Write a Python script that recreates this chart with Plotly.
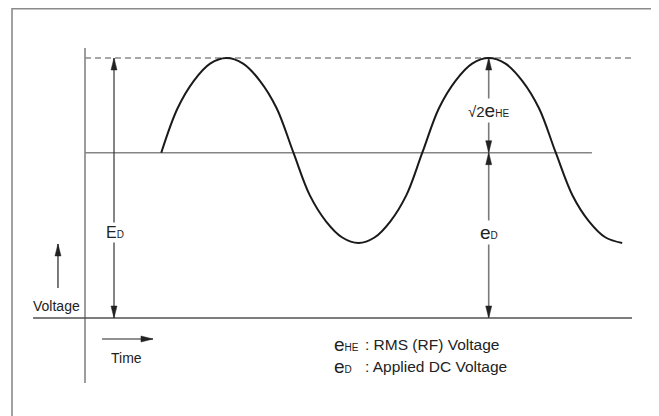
import plotly.graph_objects as go

# ---------------- data (time units, voltage units) ----------------
wave_t = [1.160, 1.408, 1.655, 1.903, 2.150,
          2.405, 2.660, 2.915, 3.170,
          3.418, 3.665, 3.913, 4.160,
          4.403, 4.645, 4.888, 5.130,
          5.383, 5.635, 5.888, 6.140,
          6.395, 6.650, 6.905, 7.160,
          7.413, 7.665, 7.918, 8.170]
wave_v = [1.000, 1.269, 1.435, 1.539, 1.573,
          1.539, 1.435, 1.269, 1.000,
          0.743, 0.585, 0.487, 0.454,
          0.487, 0.585, 0.743, 1.000,
          1.269, 1.435, 1.539, 1.573,
          1.539, 1.435, 1.269, 1.000,
          0.743, 0.585, 0.487, 0.454]

DC_LEVEL = 1.0      # e_D
PEAK_LEVEL = 1.573  # E_D
ED_ARROW_T = 0.441  # position of E_D arrow
PEAK_T = 6.14       # position of right-hand arrows (second peak)

AXIS_V = [-0.393, 1.633]        # vertical axis extent
BASE_T = [-0.79, 8.32]          # baseline extent
MID_T = [0.0, 7.71]             # DC line extent
DASH_T = [0.0, 8.32]            # peak dashed line extent

TIME_ARROW_T = [0.259, 1.034]
TIME_ARROW_V = -0.127
VOLT_ARROW_T = -0.411
VOLT_ARROW_V = [0.181, 0.448]

LEGEND_SYMBOLS = ["HE", "D"]
LEGEND_TEXTS = [": RMS (RF) Voltage", ": Applied DC Voltage"]
LEGEND_V = [-0.163, -0.296]

# ---------------- axes geometry ----------------
W, H = 651, 408   # page body has an 8px margin
X_RANGE = [-1.1711, 8.7300]
Y_RANGE = [-0.5929, 1.8754]
SX = W / (X_RANGE[1] - X_RANGE[0])   # px per time unit
SY = H / (Y_RANGE[1] - Y_RANGE[0])   # px per voltage unit

FONT = "Liberation Sans, Arial, Helvetica, sans-serif"

fig = go.Figure()

def seg(x0, y0, x1, y1, color, width, dash="solid"):
    fig.add_shape(type="line", xref="x", yref="y", x0=x0, y0=y0, x1=x1, y1=y1,
                  line=dict(color=color, width=width, dash=dash), layer="below")

def head(t, v, direction, color, length=12, half=3):
    L, w = length, half
    if direction == "up":
        p = [(t, v), (t - w / SX, v - L / SY), (t + w / SX, v - L / SY)]
    elif direction == "down":
        p = [(t, v), (t - w / SX, v + L / SY), (t + w / SX, v + L / SY)]
    else:  # right
        p = [(t, v), (t - L / SX, v + w / SY), (t - L / SX, v - w / SY)]
    path = "M{},{} L{},{} L{},{} Z".format(p[0][0], p[0][1], p[1][0], p[1][1], p[2][0], p[2][1])
    fig.add_shape(type="path", xref="x", yref="y", path=path,
                  fillcolor=color, line=dict(color=color, width=0.5))

# outer frame (open at bottom edge of view)
fig.add_shape(type="rect", xref="paper", yref="paper", x0=4 / W, x1=645 / W,
              y0=-0.1, y1=1 - 0.8 / H, line=dict(color="#8a8a8a", width=1.6), layer="below")

# axes and reference lines
seg(0, AXIS_V[0], 0, AXIS_V[1], "#858585", 1.6)
seg(BASE_T[0], 0, BASE_T[1], 0, "#505050", 1.6)
seg(MID_T[0], DC_LEVEL, MID_T[1], DC_LEVEL, "#858585", 1.6)
seg(DASH_T[0], PEAK_LEVEL, DASH_T[1], PEAK_LEVEL, "#8a8a8a", 1.3, dash="6px,4px")

# waveform
fig.add_trace(go.Scatter(x=wave_t, y=wave_v, mode="lines",
                         line=dict(color="#1a1a1a", width=2, shape="spline", smoothing=1.0,
                                   simplify=False),
                         hoverinfo="skip", showlegend=False))

# E_D arrow
seg(ED_ARROW_T, 0, ED_ARROW_T, PEAK_LEVEL, "#333333", 1.2)
head(ED_ARROW_T, PEAK_LEVEL, "up", "#222222")
head(ED_ARROW_T, 0, "down", "#222222")

# right arrows
seg(PEAK_T, 0, PEAK_T, PEAK_LEVEL, "#7a7a7a", 1.6)
head(PEAK_T, PEAK_LEVEL, "up", "#222222")
head(PEAK_T, DC_LEVEL, "down", "#222222")
head(PEAK_T, DC_LEVEL, "up", "#222222")
head(PEAK_T, 0, "down", "#222222")

# voltage / time arrows
seg(VOLT_ARROW_T, VOLT_ARROW_V[0], VOLT_ARROW_T, VOLT_ARROW_V[1], "#222222", 1.2)
head(VOLT_ARROW_T, VOLT_ARROW_V[1], "up", "#222222")
seg(TIME_ARROW_T[0], TIME_ARROW_V, TIME_ARROW_T[1], TIME_ARROW_V, "#222222", 1.2)
head(TIME_ARROW_T[1], TIME_ARROW_V, "right", "#222222")

def label(x, y, text, size=14, xanchor="center", bg=None):
    fig.add_annotation(x=x, y=y, xref="x", yref="y", text=text, showarrow=False,
                       xanchor=xanchor, yanchor="middle",
                       font=dict(family=FONT, size=size, color="#222222"),
                       bgcolor=bg, borderpad=1)

SUB = "<span style='font-size:10px'>{}</span>"
BIG_E = "<span style='font-size:19px'>e</span>"

label(0.46, 0.52, "E" + SUB.format("D"), size=16, bg="white")
label(PEAK_T, 0.52, BIG_E + SUB.format("D"), size=16, bg="white")
label(PEAK_T, 1.258, "√2" + BIG_E + SUB.format("HE"), size=15, bg="white")
label(-0.426, 0.073, "Voltage", size=14)
label(0.624, -0.242, "Time", size=14)

for sym, txt, v in zip(LEGEND_SYMBOLS, LEGEND_TEXTS, LEGEND_V):
    label(3.757, v, BIG_E + SUB.format(sym), size=15, xanchor="left")
    label(4.228, v, txt, size=15.5, xanchor="left")

fig.update_layout(
    width=W, height=H, margin=dict(l=0, r=0, t=0, b=0),
    paper_bgcolor="white", plot_bgcolor="white",
    xaxis=dict(range=X_RANGE, visible=False, fixedrange=True),
    yaxis=dict(range=Y_RANGE, visible=False, fixedrange=True),
    showlegend=False,
)

fig.write_html("out.html")
